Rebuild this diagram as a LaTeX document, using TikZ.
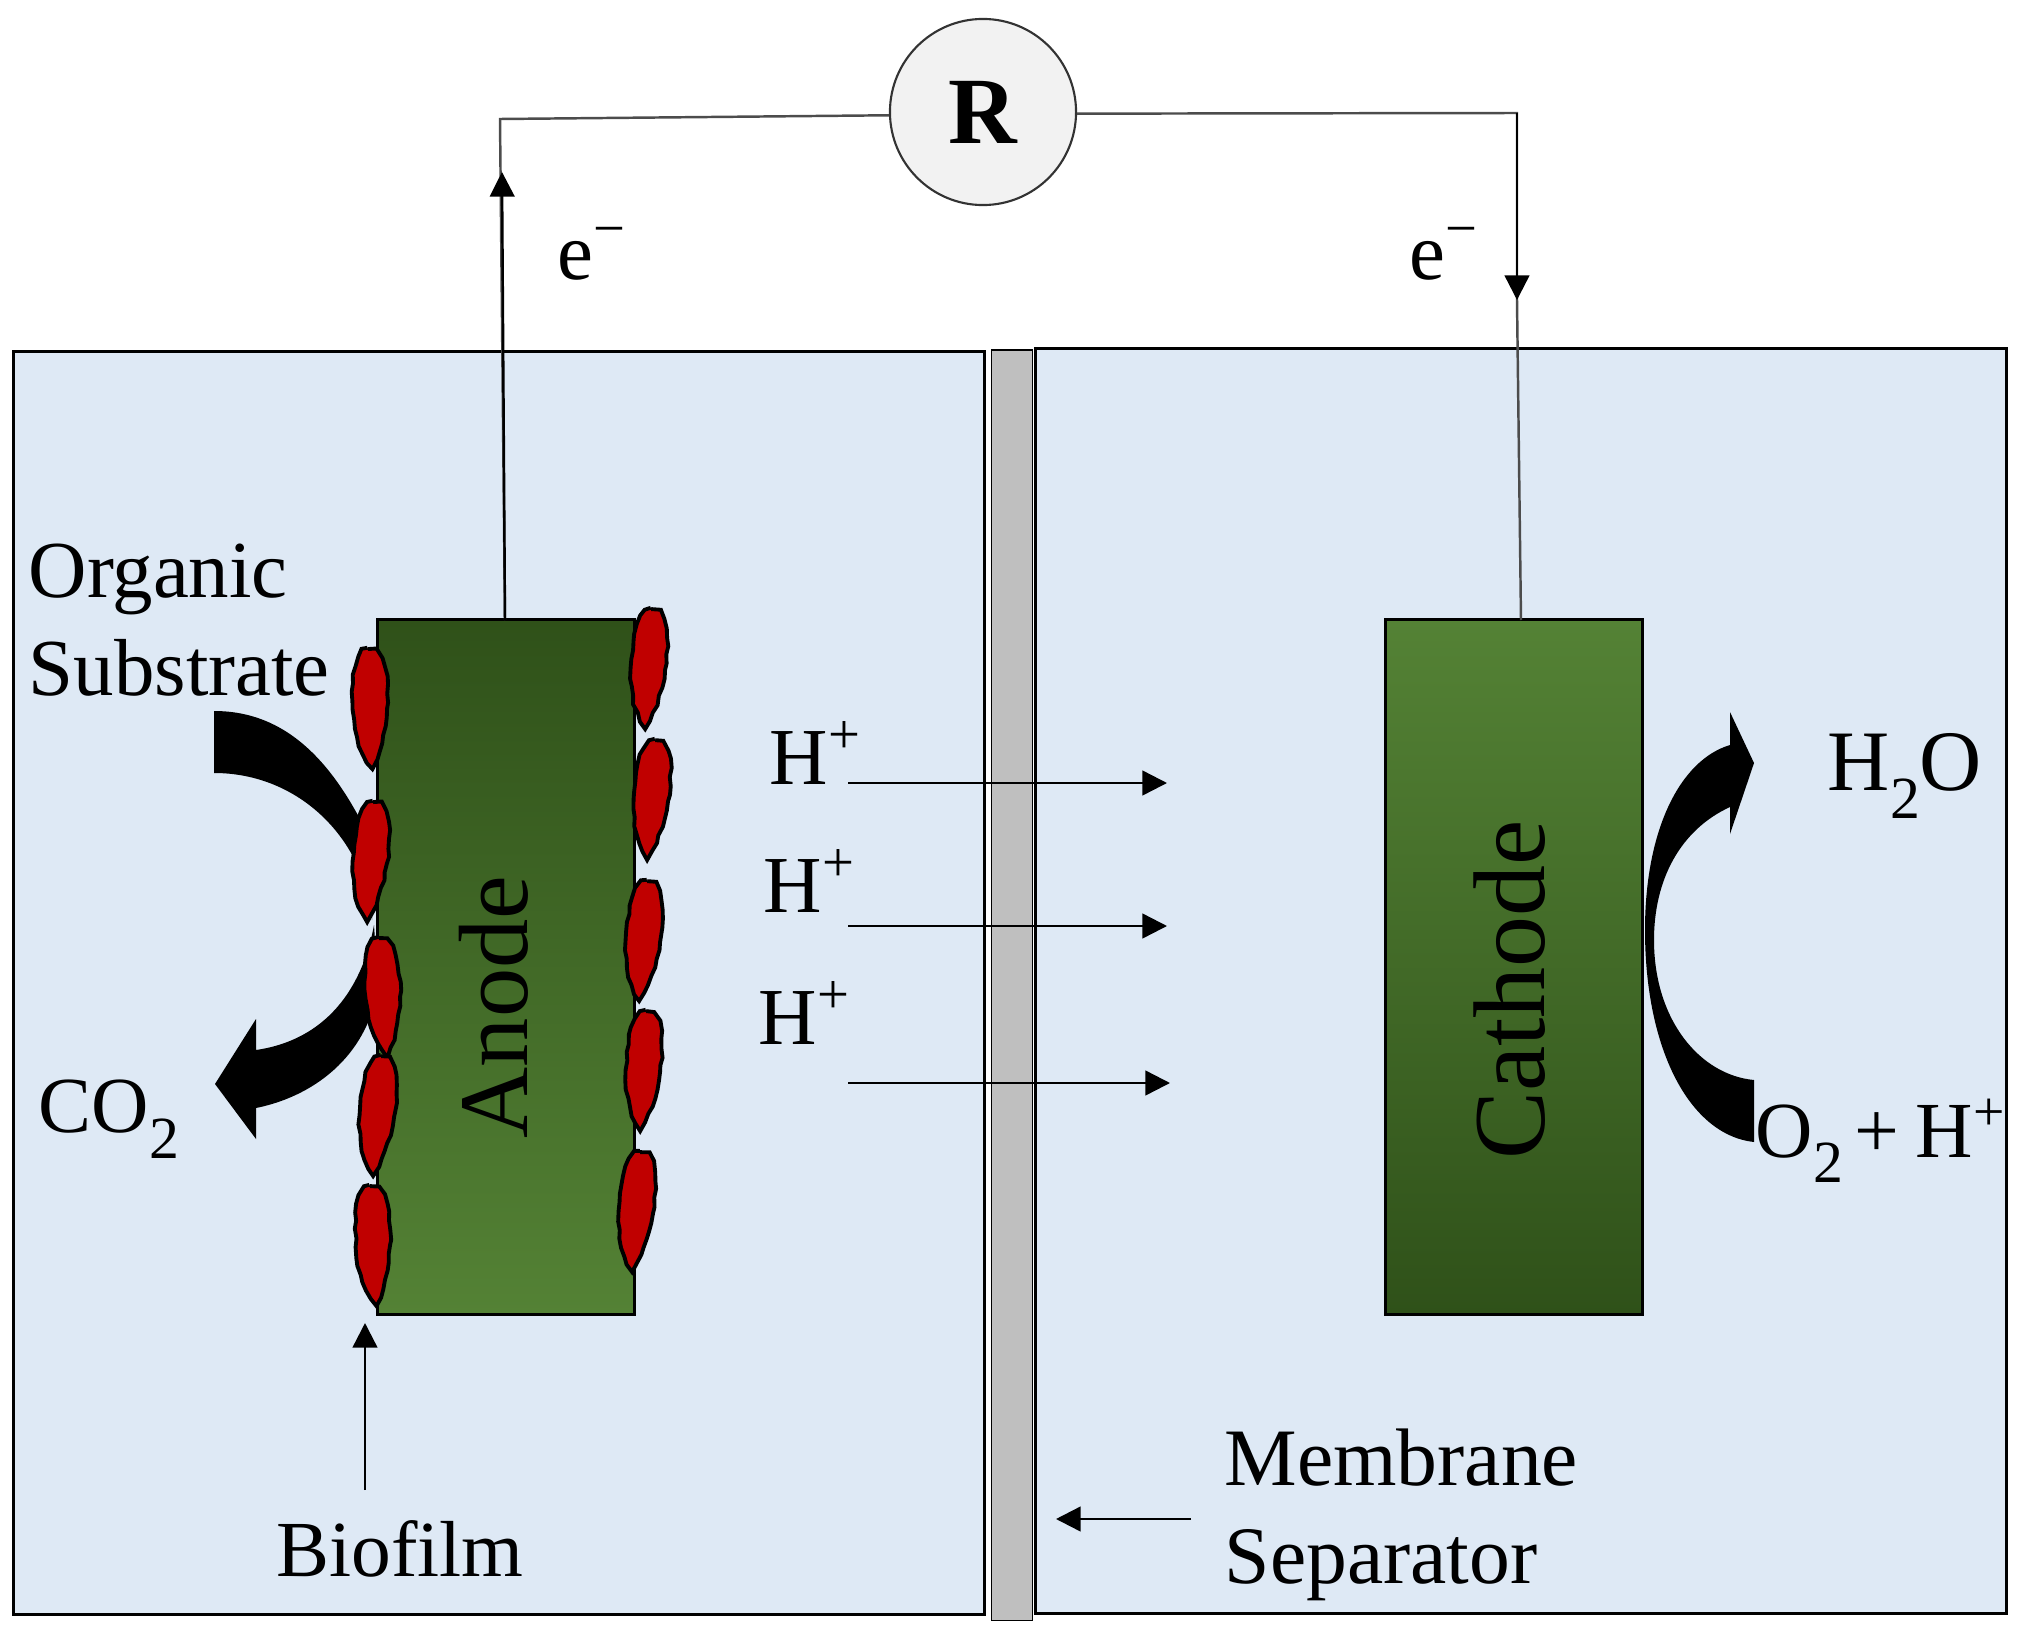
\documentclass[tikz,border=0pt]{standalone}
\usepackage{fontspec}
\setmainfont{Liberation Serif}
\usetikzlibrary{arrows.meta,shapes,positioning,decorations.pathmorphing}
\definecolor{chamber}{HTML}{DEE9F5}
\definecolor{leafdark}{HTML}{2F5119}
\definecolor{leaflight}{HTML}{548235}
\definecolor{cellred}{HTML}{C00000}
\newcommand{\lowtwo}{\raisebox{-0.32em}{\fontsize{17}{17}\selectfont 2}}

\begin{document}
\begin{tikzpicture} [
		x=0.01cm, y=-0.01cm,
		auto,
		chamber/.style  = { rectangle, draw=black, line width=0.8pt, fill=chamber, inner sep=0pt },
		separator/.style = { rectangle, draw=black, line width=0.5pt, fill=black!25,
			minimum width=0.41cm, minimum height=12.7cm, inner sep=0pt },
		electrode/.style = { rectangle, draw=black, line width=0.8pt, inner sep=0pt,
			minimum width=2.57cm, minimum height=6.94cm },
		load/.style     = { circle, draw=black!80, line width=0.6pt, fill=black!5,
			minimum size=1.86cm, inner sep=0pt, font=\fontsize{27}{27}\selectfont\bfseries },
		cell/.style     = { draw=black, line width=1.1pt, fill=cellred,
			decorate, decoration={random steps, segment length=2.5pt, amplitude=0.3pt} },
		label/.style    = { inner sep=0pt, align=left, font=\fontsize{23}{27.9}\selectfont },
		tag/.style      = { inner sep=0pt, font=\fontsize{28}{28}\selectfont, rotate=90 },
		wire/.style     = { draw=black!70, line width=0.7pt },
		line/.style     = { draw=black, line width=0.7pt, -{Triangle[length=7pt,width=7pt]} },
		flow/.style     = { fill=black, draw=none },
	]
	\pgfmathsetseed{7}
	\useasboundingbox (0,0) rectangle (2020,1630);
	% chambers and electrodes
	\begin{scope}
		\node [chamber, minimum width=9.7cm, minimum height=12.62cm] (anolyte) at (499,983) {};
		\node [chamber, minimum width=9.71cm, minimum height=12.65cm] (catholyte) at (1521,981) {};
		\node [separator] (membrane) at (1012,985) {};
		\node [electrode, top color=leafdark, bottom color=leaflight] (anode) at (506,967) {};
		\node [electrode, top color=leaflight, bottom color=leafdark] (cathode) at (1514,967) {};
		\node [load] (load) at (983,112) {R};
		\node [tag] (anodeText) at (494,1007) {Anode};
		\node [tag, font=\fontsize{29}{29}\selectfont] (cathodeText) at (1510,990) {Cathode};
	\end{scope}
	% block arrows, under the biofilm
	\fill [flow] (214,711) .. controls (285,711) and (335,760) .. (375,850)
		-- (372,920) .. controls (365,840) and (300,773) .. (214,773) -- cycle;
	\fill [flow] (374,925) .. controls (362,990) and (325,1040) .. (256,1050)
		-- (256,1019) -- (215,1084) -- (256,1139) -- (256,1108)
		.. controls (320,1095) and (370,1050) .. (378,985) -- cycle;
	\fill [flow] (1754,1080) .. controls (1700,1075) and (1654,1020) .. (1654,940)
		.. controls (1654,880) and (1680,830) .. (1730,807) -- (1730,834) -- (1754,763)
		-- (1730,712) -- (1730,745) .. controls (1680,760) and (1645,830) .. (1645,930)
		.. controls (1645,1050) and (1690,1135) .. (1754,1142) -- cycle;
	% biofilm
	\foreach \x/\y/\a [count=\i] in {370/709/2, 370/862/-3, 383/998/4, 377/1116/-4, 373/1246/3} {
		\path [cell, shift={(\x,\y)}, rotate=\a] (0,-60) .. controls (16,-60) and (20,-30) .. (17,0)
			.. controls (15,25) and (8,45) .. (0,60) .. controls (-10,45) and (-17,25) .. (-17,0)
			.. controls (-17,-30) and (-14,-60) .. (0,-60) -- cycle;
	}
	\foreach \x/\y/\a [count=\i] in {648/669/-3, 651/800/-4, 643/941/-4, 643/1071/-3, 636/1212/-4} {
		\path [cell, shift={(\x,\y)}, rotate=\a] (0,-60) .. controls (16,-60) and (20,-30) .. (17,0)
			.. controls (15,25) and (8,45) .. (0,60) .. controls (-10,45) and (-17,25) .. (-17,0)
			.. controls (-17,-30) and (-14,-60) .. (0,-60) -- cycle;
	}
	% texts
	\node [label, anchor=west] (substrate) at (28,620) {Organic\\Substrate};
	\node [label, font=\fontsize{22.6}{22.6}\selectfont] (co2) at (109,1119) {CO\lowtwo};
	\node [label, font=\fontsize{24.5}{24.5}\selectfont] (h2o) at (1905,776) {H\lowtwo O};
	\node [label, anchor=west, font=\fontsize{22.6}{22.6}\selectfont] (o2) at (1755,1141) {O\lowtwo\hspace{0.15em}+\hspace{0.2em}H\textsuperscript{+}};
	\node [label, font=\fontsize{22.6}{22.6}\selectfont] (biofilm) at (400,1549) {Biofilm};
	\node [label, anchor=west, font=\fontsize{23.2}{27.9}\selectfont] (sep) at (1224,1515) {Membrane\\Separator};
	\node [label] (eLeft) at (592,254) {e\textsuperscript{\textminus}};
	\node [label] (eRight) at (1444,254) {e\textsuperscript{\textminus}};
	\node [label] (proton1) at (816,753) {H\textsuperscript{+}};
	\node [label] (proton2) at (810,881) {H\textsuperscript{+}};
	\node [label] (proton3) at (805,1013) {H\textsuperscript{+}};
	% free ends of the connectors
	\coordinate (anodeLead) at (505,620);
	\coordinate (cathodeLead) at (1521,620);
	\coordinate (cornerL) at (500,119);
	\coordinate (tipL) at (502,172);
	\coordinate (cornerR) at (1517,113);
	\coordinate (tipR) at (1517,300);
	\coordinate (biofilmTip) at (365,1323);
	\coordinate (biofilmEnd) at (365,1490);
	\coordinate (sepStart) at (1191,1519);
	\coordinate (sepEnd) at (1056,1519);
	\coordinate (h1s) at (848,783);
	\coordinate (h1e) at (1167,783);
	\coordinate (h2s) at (848,926);
	\coordinate (h2e) at (1167,926);
	\coordinate (h3s) at (848,1083);
	\coordinate (h3e) at (1170,1083);
	% connect all nodes defined above
	\begin{scope}
		\path [wire] (anodeLead) -- (cornerL) -- (load.182);
		\path [wire] (load.-1) -- (cornerR) -- (tipR) -- (cathodeLead);
		\path [line] (anodeLead) -- (tipL);
		\path [line] (cornerR) -- (tipR);
		\path [line] (biofilmEnd) -- (biofilmTip);
		\path [line] (sepStart) -- (sepEnd);
		\path [line] (h1s) -- (h1e);
		\path [line] (h2s) -- (h2e);
		\path [line] (h3s) -- (h3e);
	\end{scope}
\end{tikzpicture}
\end{document}
